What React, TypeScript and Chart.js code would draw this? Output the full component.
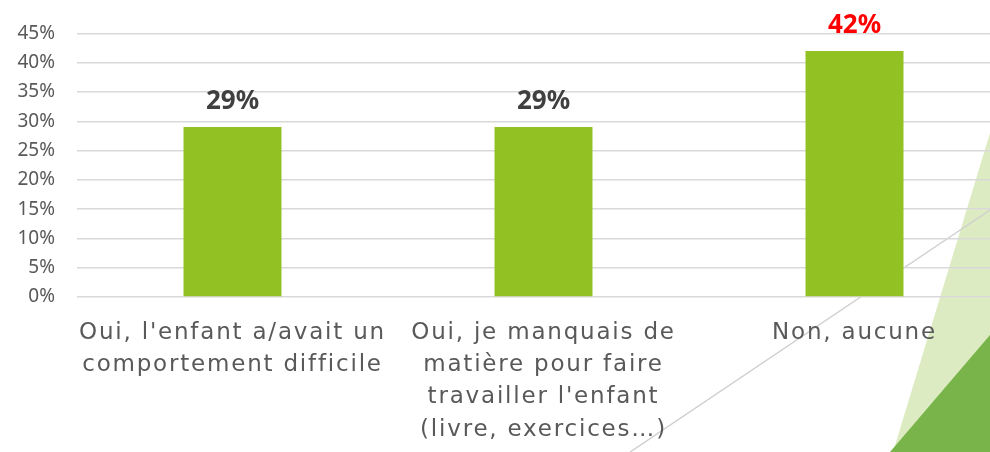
import React, { useEffect, useRef } from "react";
import { Chart, registerables } from "chart.js";

Chart.register(...registerables);

const categories: string[][] = [
  ["Oui, l'enfant a/avait un", "comportement difficile"],
  ["Oui, je manquais de", "matière pour faire", "travailler l'enfant", "(livre, exercices…)"],
  ["Non, aucune"],
];
const values: number[] = [29, 29, 42];
const labelColors: string[] = ["#404040", "#404040", "#FF0000"];
const yTicks: number[] = [0, 5, 10, 15, 20, 25, 30, 35, 40, 45];

const FONT = "'Noto Sans', sans-serif";
const XFONT = "'DejaVu Sans', sans-serif";

const decorPlugin = {
  id: "decor",
  beforeDraw(chart: any) {
    const ctx = chart.ctx;
    ctx.save();
    ctx.fillStyle = "#DCEBC2";
    ctx.beginPath();
    ctx.moveTo(990, 133);
    ctx.lineTo(1010, 133);
    ctx.lineTo(1010, 452);
    ctx.lineTo(893, 452);
    ctx.closePath();
    ctx.fill();
    ctx.fillStyle = "#78B449";
    ctx.beginPath();
    ctx.moveTo(990, 335);
    ctx.lineTo(1010, 335);
    ctx.lineTo(1010, 452);
    ctx.lineTo(890, 452);
    ctx.closePath();
    ctx.fill();
    ctx.strokeStyle = "#CFCFCF";
    ctx.lineWidth = 1.5;
    ctx.beginPath();
    ctx.moveTo(630, 452);
    ctx.lineTo(990, 210);
    ctx.stroke();
    ctx.restore();
  },
};

const valueLabelPlugin = {
  id: "valueLabels",
  afterDatasetsDraw(chart: any) {
    const ctx = chart.ctx;
    const meta = chart.getDatasetMeta(0);
    ctx.save();
    ctx.font = `bold 26px ${FONT}`;
    ctx.textAlign = "center";
    ctx.textBaseline = "alphabetic";
    meta.data.forEach((bar: any, i: number) => {
      ctx.fillStyle = labelColors[i];
      ctx.fillText(values[i] + "%", bar.x, bar.y - 18);
    });
    ctx.restore();
  },
};

export default function App() {
  const ref = useRef<HTMLCanvasElement>(null);
  useEffect(() => {
    let chart: any = null;
    let cancelled = false;
    const build = () => {
      if (cancelled || !ref.current) return;
      chart = new Chart(ref.current, {
        type: "bar",
        data: {
          labels: categories,
          datasets: [
            {
              data: values,
              backgroundColor: "#92C124",
              categoryPercentage: 1,
              barPercentage: 0.315,
            },
          ],
        },
        options: {
          responsive: false,
          animation: false,
          layout: { padding: { top: 33, left: 0, right: 0, bottom: 0 } },
          plugins: { legend: { display: false }, tooltip: { enabled: false } },
          scales: {
            x: {
              grid: { display: false, drawTicks: false },
              border: { display: false },
              ticks: {
                color: "#595959",
                font: { family: XFONT, size: 23, lineHeight: 1.4 },
                padding: 20,
                maxRotation: 0,
                autoSkip: false,
              },
              afterFit(scale: any) {
                scale.height = 155;
              },
              afterUpdate(scale: any) {
                if (scale._spaced) return;
                scale._spaced = true;
                const orig = Object.getPrototypeOf(scale).drawLabels;
                scale.drawLabels = function (area: any) {
                  const ctx = this.ctx;
                  ctx.save();
                  ctx.letterSpacing = "1.8px";
                  orig.call(this, area);
                  ctx.restore();
                };
              },
            },
            y: {
              min: 0,
              max: 45,
              afterBuildTicks(scale: any) {
                scale.ticks = yTicks.map((v) => ({ value: v }));
              },
              grid: { color: "#D9D9D9", lineWidth: 1.5, drawTicks: false },
              border: { display: false },
              ticks: {
                color: "#595959",
                font: { family: FONT, size: 19 },
                padding: 22,
                callback: (v: any) => v + "%",
              },
              afterFit(scale: any) {
                scale.width = 77;
              },
            },
          },
        },
        plugins: [decorPlugin, valueLabelPlugin],
      });
    };
    const fonts: any = (document as any).fonts;
    if (fonts && fonts.load) {
      Promise.all([
        fonts.load(`19px 'Noto Sans'`),
        fonts.load(`bold 26px 'Noto Sans'`),
        fonts.load(`23px 'DejaVu Sans'`),
      ])
        .catch(() => null)
        .then(build);
    } else {
      build();
    }
    return () => {
      cancelled = true;
      if (chart) chart.destroy();
    };
  }, []);
  return (
    <div style={{ position: "fixed", left: 0, top: 0, width: 990, height: 452, overflow: "hidden", background: "#fff" }}>
      <canvas ref={ref} width={1010} height={452} style={{ display: "block" }} />
    </div>
  );
}
